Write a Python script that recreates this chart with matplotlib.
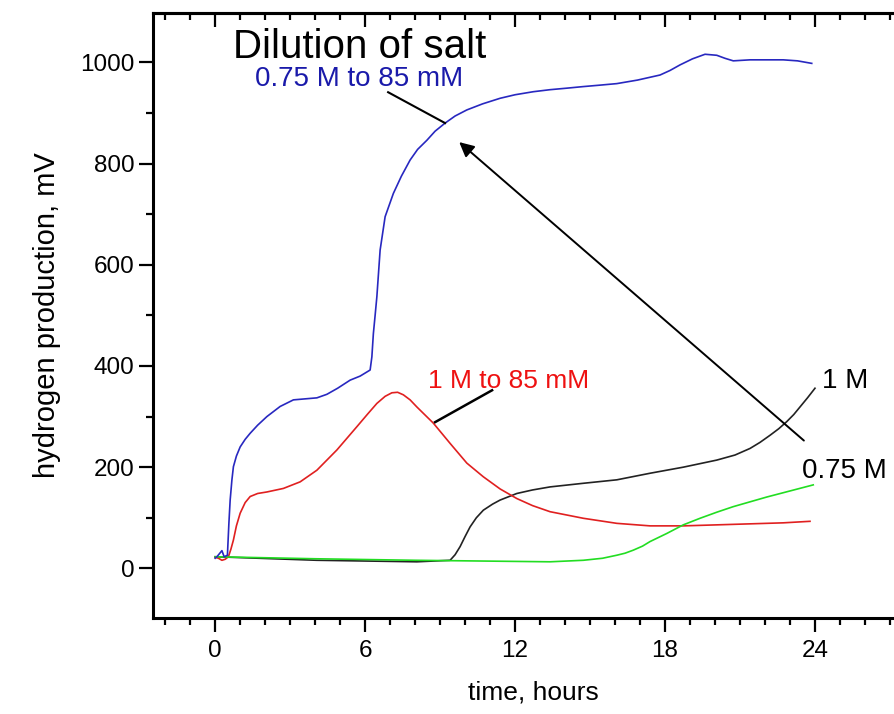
import numpy as np
import matplotlib.pyplot as plt
from matplotlib.ticker import MultipleLocator

plt.rcParams['font.family'] = ['Liberation Sans', 'DejaVu Sans']

# 0.75 M diluted to 85 mM (blue)
t_blue = [0.0, 0.07, 0.27, 0.36, 0.49, 0.55, 0.6, 0.67, 0.73, 0.85, 1.0, 1.2, 1.4, 1.7,
          2.07, 2.6, 3.13, 3.6, 4.07, 4.47, 4.9, 5.4, 5.8, 6.2, 6.27, 6.33, 6.4, 6.47,
          6.6, 6.8, 7.13, 7.45, 7.8, 8.1, 8.47, 8.8, 9.2, 9.6, 10.07, 10.7, 11.4,
          12.0, 12.73, 13.4, 14.07, 14.7, 15.4, 16.07, 16.9, 17.8, 18.2, 18.6, 19.1,
          19.6, 20.07, 20.4, 20.73, 21.4, 22.0, 22.73, 23.3, 23.87]
h_blue = [20, 23, 35, 23, 26, 90, 135, 175, 201, 222, 240, 255, 267, 283,
          300, 320, 333, 335, 337, 344, 356, 372, 380, 392, 418, 464, 500, 537,
          629, 695, 741, 775, 807, 828, 846, 864, 880, 894, 906, 918, 929,
          936, 942, 946, 949, 952, 955, 958, 965, 975, 984, 995, 1007,
          1016, 1014, 1008, 1003, 1005, 1005, 1005, 1003, 998]

# 1 M diluted to 85 mM (red)
t_red = [0.0, 0.13, 0.27, 0.4, 0.53, 0.63, 0.73, 0.85, 1.0, 1.2, 1.4, 1.7, 2.07, 2.73,
         3.4, 4.07, 4.87, 5.67, 6.1, 6.47, 6.8, 7.07, 7.3, 7.53, 7.8, 8.07, 8.73,
         9.4, 10.07, 10.73, 11.4, 12.07, 12.7, 13.4, 14.73, 16.07, 17.4, 18.73,
         20.07, 21.4, 22.73, 23.8]
h_red = [22, 20, 16, 18, 23, 38, 56, 84, 109, 130, 142, 148, 151, 158,
         171, 194, 234, 280, 305, 326, 340, 347, 348, 343, 333, 319, 287,
         247, 208, 181, 157, 138, 124, 112, 99, 89, 84, 84,
         86, 88, 90, 93]

# 1 M (black)
t_black = [0.0, 4.07, 8.07, 9.4, 9.6, 9.8, 10.0, 10.2, 10.45, 10.73, 11.1, 11.4, 12.07,
           12.7, 13.4, 14.7, 16.07, 17.4, 18.73, 20.07, 20.8, 21.4, 21.8, 22.2,
           22.55, 22.87, 23.15, 23.4, 23.7, 24.0]
h_black = [23, 16, 13, 16, 27, 43, 63, 82, 100, 115, 127, 135, 148,
           155, 161, 168, 175, 188, 200, 214, 224, 237, 249, 263,
           276, 290, 304, 319, 337, 356]

# 0.75 M (green)
t_green = [0.0, 4.0, 8.0, 13.4, 14.73, 15.5, 16.07, 16.4, 16.73, 17.1, 17.4, 18.07,
           18.73, 19.4, 20.07, 20.73, 22.07, 23.93]
h_green = [23, 19, 16, 13, 16, 20, 26, 30, 36, 44, 53, 69, 86, 99, 111, 122, 141, 165]

fig = plt.figure(figsize=(8.95, 7.14), dpi=100)
ax = fig.add_axes([0.1706, 0.1345, 0.8517, 0.8469])

ax.plot(t_black, h_black, color='#222222', lw=1.2)
ax.plot(t_red, h_red, color='#e02020', lw=1.2)
ax.plot(t_green, h_green, color='#22dd22', lw=1.2)
ax.plot(t_blue, h_blue, color='#2828c0', lw=1.2)

ax.set_xlim(-2.5, 28)
ax.set_ylim(-98, 1097)

ax.xaxis.set_major_locator(MultipleLocator(6))
ax.xaxis.set_minor_locator(MultipleLocator(1))
ax.yaxis.set_major_locator(MultipleLocator(200))
ax.yaxis.set_minor_locator(MultipleLocator(100))

ax.spines['right'].set_visible(False)
for s in ['left', 'bottom', 'top']:
    ax.spines[s].set_linewidth(2.2)
    ax.spines[s].set_capstyle('projecting')

ax.tick_params(axis='both', which='major', direction='out', length=10, width=1.6,
               labelsize=17.5)
ax.tick_params(axis='both', which='minor', direction='out', length=5, width=1.6)
ax.tick_params(axis='x', which='major', pad=6)
ax.tick_params(axis='y', which='major', pad=3)
ax.tick_params(axis='y', which='both', right=False)
ax.tick_params(axis='x', which='both', top=False)

# top ticks point inward
top = ax.secondary_xaxis('top')
top.xaxis.set_major_locator(MultipleLocator(6))
top.xaxis.set_minor_locator(MultipleLocator(1))
top.tick_params(which='major', direction='in', length=10, width=1.6, labeltop=False)
top.tick_params(which='minor', direction='in', length=5, width=1.6)
top.spines['top'].set_linewidth(2.2)

ax.set_xlabel('time, hours', fontsize=19, labelpad=13)
ax.set_ylabel('hydrogen production, mV', fontsize=21, labelpad=14)

ax.text(0.72, 1008, 'Dilution of salt', fontsize=29, ha='left', va='baseline')
ax.text(1.6, 953, '0.75 M to 85 mM', fontsize=20, color='#1a1aaa', ha='left', va='baseline')
ax.text(8.52, 357, '1 M to 85 mM', fontsize=19, color='#ee1111', ha='left', va='baseline')
ax.text(24.28, 356, '1 M', fontsize=20, ha='left', va='baseline')
ax.text(23.48, 178, '0.75 M', fontsize=20, ha='left', va='baseline')

# leader lines
ax.plot([6.92, 9.2], [941, 880], color='k', lw=1.5)
ax.plot([11.08, 8.8], [352, 289], color='k', lw=1.8)

ax.annotate('', xy=(9.68, 846), xytext=(23.64, 249),
            arrowprops=dict(arrowstyle='-|>', color='k', lw=1.4, mutation_scale=22))

fig.savefig('out.png', dpi=100)
